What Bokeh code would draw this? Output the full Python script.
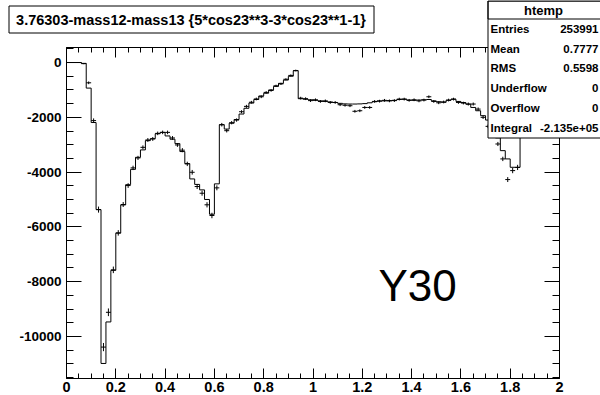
import numpy as np
from bokeh.plotting import figure
from bokeh.models import (LinearAxis, FixedTicker, PrintfTickFormatter, Label,
                          BoxAnnotation, Range1d, ColumnDataSource, CustomJSTickFormatter)
from bokeh.embed import file_html
from bokeh.resources import INLINE

# ---------------- data ----------------
x_lo, x_hi, n_bins = 0.0, 2.0, 100

hist_values = [
    0, 0, 0, -30, -933, -2190, -5370, -10988, -9472, -7588,
    -6229, -5200, -4460, -3900, -3460, -3190, -2852, -2780, -2600, -2550,
    -2680, -2800, -2960, -3250, -3690, -4250, -4450, -4650, -5000, -5540,
    -4430, -2270, -2430, -2215, -2080, -1880, -1670, -1480, -1350, -1220,
    -1120, -1000, -870, -760, -640, -500, -300, -1320, -1340, -1360,
    -1380, -1400, -1420, -1440, -1460, -1490, -1510, -1515, -1515, -1510,
    -1500, -1470, -1430, -1400, -1400, -1390, -1380, -1350, -1340, -1370,
    -1380, -1370, -1360, -1350, -1400, -1430, -1450, -1380, -1340, -1420,
    -1460, -1520, -1640, -1760, -1940, -2100, -2400, -2750, -3217, -3519,
    -3825, -3825, 0, 0, 0, 0, 0, 0, 0, 0,
]

cross_values = [
    0, 0, 0, -40, -740, -2120, -5370, -10390, -9120, -7570,
    -6220, -5184, -4492, -3847, -3483, -3096, -2827, -2790, -2586, -2550,
    -2550, -2754, -3009, -3200, -3701, -4007, -4528, -4772, -5195, -5585,
    -4576, -2270, -2488, -2197, -2100, -1796, -1600, -1450, -1330, -1250,
    -1090, -1020, -850, -780, -610, -470, -290, -1300, -1320, -1390,
    -1360, -1420, -1400, -1457, -1457, -1540, -1560, -1577, -1780, -1760,
    -1640, -1640, -1420, -1410, -1380, -1400, -1390, -1335, -1335, -1380,
    -1360, -1400, -1370, -1250, -1420, -1470, -1440, -1370, -1335, -1457,
    -1480, -1515, -1515, -1700, -2000, -2330, -2670, -2974, -3519, -4273,
    -3946, -3830, 0, 0, 0, 0, 0, 0, 0, 0,
]

cross_errors = [
    0, 0, 0, 20, 50, 80, 110, 150, 140, 120,
    100, 90, 85, 80, 75, 70, 70, 70, 65, 65,
    65, 70, 70, 75, 80, 85, 90, 90, 95, 100,
    90, 65, 65, 60, 60, 55, 55, 50, 50, 50,
    45, 45, 40, 40, 35, 35, 30, 50, 50, 50,
    50, 50, 50, 50, 50, 50, 50, 50, 50, 50,
    50, 50, 50, 50, 50, 50, 50, 50, 50, 50,
    50, 50, 50, 50, 50, 50, 50, 50, 50, 50,
    50, 55, 55, 60, 60, 65, 70, 75, 80, 90,
    95, 95, 0, 0, 0, 0, 0, 0, 0, 0,
]

x_ticks = [0, 0.2, 0.4, 0.6, 0.8, 1, 1.2, 1.4, 1.6, 1.8, 2]
y_ticks = [-10000, -8000, -6000, -4000, -2000, 0]

title_text = "3.76303-mass12-mass13 {5*cos23**3-3*cos23**1-1}"
stats_name = "htemp"
stats_labels = ["Entries", "Mean", "RMS", "Underflow", "Overflow", "Integral"]
stats_values = ["253991", "0.7777", "0.5598", "0", "0", "-2.135e+05"]
big_label = "Y30"

# ---------------- derived ----------------
edges = np.linspace(x_lo, x_hi, n_bins + 1)
centers = 0.5 * (edges[:-1] + edges[1:])
half_w = 0.5 * (edges[1] - edges[0])
vals = np.array(hist_values, dtype=float)
cv = np.array(cross_values, dtype=float)
ce = np.array(cross_errors, dtype=float)

y_min = float(vals.min())
y_max = float(max(vals.max(), 0.0))
margin = 0.05 * (y_max - y_min)
y_lo, y_hi = y_min - margin, y_max + margin

x_minor = [float(v) for v in np.round(np.arange(x_lo, x_hi + 1e-9, 0.05), 4)]
y_minor = list(range(-11500, 501, 500))

FONT = "Liberation Sans"
W, H = 600, 395
# data-frame geometry inside the canvas (px)
FL, FR, FT, FB = 66, 559, 47, 378
ppx = (FR - FL) / (x_hi - x_lo)
ppy = (FB - FT) / (y_hi - y_lo)
xr = Range1d(x_lo - FL / ppx, x_hi + (W - FR) / ppx)
yr = Range1d(y_lo - (H - FB) / ppy, y_hi + FT / ppy)

p = figure(width=W, height=H, output_backend="svg", toolbar_location=None,
           x_range=xr, y_range=yr, min_border=0)
p.background_fill_color = "white"
p.border_fill_color = "white"
p.outline_line_color = None
p.grid.visible = False

xt = FixedTicker(ticks=x_ticks, minor_ticks=x_minor)
yt = FixedTicker(ticks=y_ticks, minor_ticks=y_minor)
blank = CustomJSTickFormatter(code="return ''")

def style_x(ax, labels=True):
    ax.ticker = xt
    ax.bounds = (x_lo, x_hi)
    ax.axis_line_color = "black"
    ax.major_tick_line_color = "black"
    ax.minor_tick_line_color = "black"
    ax.major_tick_in = 10
    ax.major_tick_out = 0
    ax.minor_tick_in = 5
    ax.minor_tick_out = 0
    if labels:
        ax.formatter = PrintfTickFormatter(format="%g")
        ax.major_label_text_font = FONT
        ax.major_label_text_font_style = "bold"
        ax.major_label_text_font_size = "14.5px"
        ax.major_label_standoff = 3
        ax.major_label_text_color = "black"
    else:
        ax.formatter = blank
        ax.major_label_standoff = 0

def style_y(ax, labels=True):
    ax.ticker = yt
    ax.bounds = (y_lo, y_hi)
    ax.axis_line_color = "black"
    ax.major_tick_line_color = "black"
    ax.minor_tick_line_color = "black"
    ax.major_tick_in = 15
    ax.major_tick_out = 0
    ax.minor_tick_in = 7
    ax.minor_tick_out = 0
    if labels:
        ax.formatter = PrintfTickFormatter(format="%d")
        ax.major_label_text_font = FONT
        ax.major_label_text_font_style = "bold"
        ax.major_label_text_font_size = "13.5px"
        ax.major_label_standoff = 5
        ax.major_label_text_color = "black"
    else:
        ax.formatter = blank
        ax.major_label_standoff = 0

xa = p.xaxis[0]
xa.fixed_location = y_lo
style_x(xa)
ya = p.yaxis[0]
ya.fixed_location = x_lo
style_y(ya)
top_ax = LinearAxis(fixed_location=y_hi)
style_x(top_ax, labels=False)
p.add_layout(top_ax, "above")
right_ax = LinearAxis(fixed_location=x_hi)
style_y(right_ax, labels=False)
p.add_layout(right_ax, "right")

# histogram outline
step_x = list(edges)
step_y = list(vals) + [float(vals[-1])]
p.step(x=step_x, y=step_y, mode="after", line_color="black", line_width=1)

# error crosses
mask = vals != 0
src = ColumnDataSource(dict(
    xl=centers[mask] - half_w, xr=centers[mask] + half_w, xc=centers[mask],
    y=cv[mask], ylo=cv[mask] - ce[mask], yhi=cv[mask] + ce[mask]))
p.segment(x0="xl", x1="xr", y0="y", y1="y", source=src, line_color="black", line_width=1)
p.segment(x0="xc", x1="xc", y0="ylo", y1="yhi", source=src, line_color="black", line_width=1)

def sy(cy):
    return H - cy

def box(l, t, r, b, fill=True):
    p.add_layout(BoxAnnotation(left=l, right=r, top=sy(t), bottom=sy(b),
                               left_units="screen", right_units="screen",
                               top_units="screen", bottom_units="screen",
                               fill_color="white", fill_alpha=1.0 if fill else 0.0,
                               line_color="black", line_width=1, line_alpha=1.0,
                               level="annotation"))

def label(cx, cy, text, size, bold=True, align="left", baseline="middle"):
    p.add_layout(Label(x=cx, y=sy(cy), x_units="screen", y_units="screen",
                       text=text, text_font=FONT,
                       text_font_style="bold" if bold else "normal",
                       text_font_size=size, text_color="black",
                       text_align=align, text_baseline=baseline, level="overlay"))

# big label
label(378, 285, big_label, "44px", bold=False, baseline="alphabetic")

# title box
box(8.5, 5.5, 373.5, 32.5)
label(190.5, 19, title_text, "14.5px", align="center")

# stats box
box(487.5, 0.5, 610, 137.5)
box(487.5, 0.5, 610, 18.5, fill=False)
label(543, 9.5, stats_name, "13px", align="center")
for i, (lab, val) in enumerate(zip(stats_labels, stats_values)):
    cy = 28.5 + 19.7 * i
    label(490, cy, lab, "11.5px", align="left")
    label(598, cy, val, "11.5px", align="right")

open("out.html", "w").write(file_html(p, INLINE))
